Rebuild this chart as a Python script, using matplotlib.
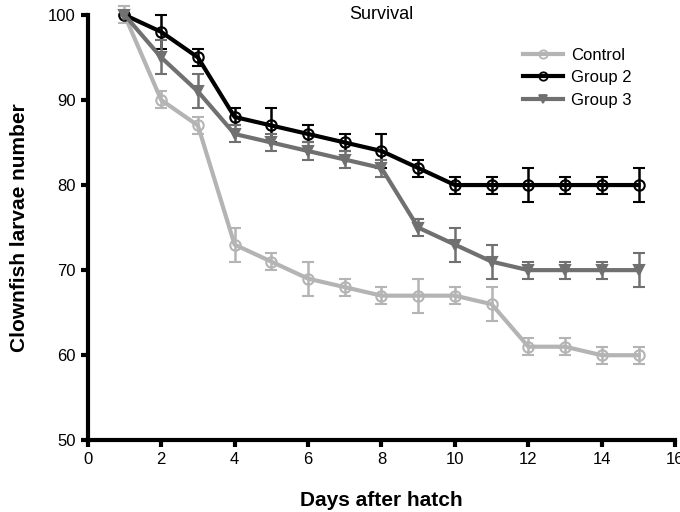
import numpy as np
import matplotlib
matplotlib.use('Agg')
import matplotlib.pyplot as plt
from matplotlib.lines import Line2D

plt.rcParams['font.family'] = ['Liberation Sans', 'DejaVu Sans']

days = list(range(1, 16))
control = [100, 90, 87, 73, 71, 69, 68, 67, 67, 67, 66, 61, 61, 60, 60]
control_err = [1, 1, 1, 2, 1, 2, 1, 1, 2, 1, 2, 1, 1, 1, 1]
group2 = [100, 98, 95, 88, 87, 86, 85, 84, 82, 80, 80, 80, 80, 80, 80]
group2_err = [0, 2, 1, 1, 2, 1, 1, 2, 1, 1, 1, 2, 1, 1, 2]
group3 = [100, 95, 91, 86, 85, 84, 83, 82, 75, 73, 71, 70, 70, 70, 70]
group3_err = [0, 2, 2, 1, 1, 1, 1, 1, 1, 2, 2, 1, 1, 1, 2]

fig = plt.figure(figsize=(6.8, 5.12), dpi=100)
ax = fig.add_axes([0.129, 0.14, 0.864, 0.831])

series = [
    ('Control', control, control_err, '#b4b4b4', 'o', 'none', 7.5),
    ('Group 2', group2, group2_err, '#000000', 'o', 'none', 7.5),
    ('Group 3', group3, group3_err, '#707070', 'v', '#707070', 7),
]
handles = []
for name, vals, err, col, mk, fc, ms in series:
    ax.errorbar(days, vals, yerr=err, color=col, lw=3, marker=mk, ms=ms,
                mfc=fc, mec=col, mew=1.5, capsize=4.3, capthick=1.8,
                elinewidth=1.8, clip_on=False)
    handles.append(Line2D([], [], color=col, lw=3, marker=mk, ms=6,
                          mfc=fc, mec=col, mew=1.3, label=name))

ax.set_xlim(0, 16)
ax.set_ylim(50, 100)
ax.set_xticks(range(0, 17, 2))
ax.set_yticks(range(50, 101, 10))
for s in ['top', 'right']:
    ax.spines[s].set_visible(False)
for s in ['left', 'bottom']:
    ax.spines[s].set_linewidth(3)
ax.tick_params(width=3, length=5, labelsize=12, direction='out')

ax.set_xlabel('Days after hatch', fontsize=15, fontweight='bold', labelpad=17)
ax.set_ylabel('Clownfish larvae number', fontsize=15, fontweight='bold', labelpad=14)
ax.text(0.5, 1.0, 'Survival', transform=ax.transAxes, ha='center', va='center', fontsize=13)

leg = ax.legend(handles=handles, loc='upper left', bbox_to_anchor=(0.715, 0.958),
                frameon=False, fontsize=12, handlelength=2.4, handletextpad=0.5,
                labelspacing=0.45)

fig.savefig('out.png', dpi=100)
